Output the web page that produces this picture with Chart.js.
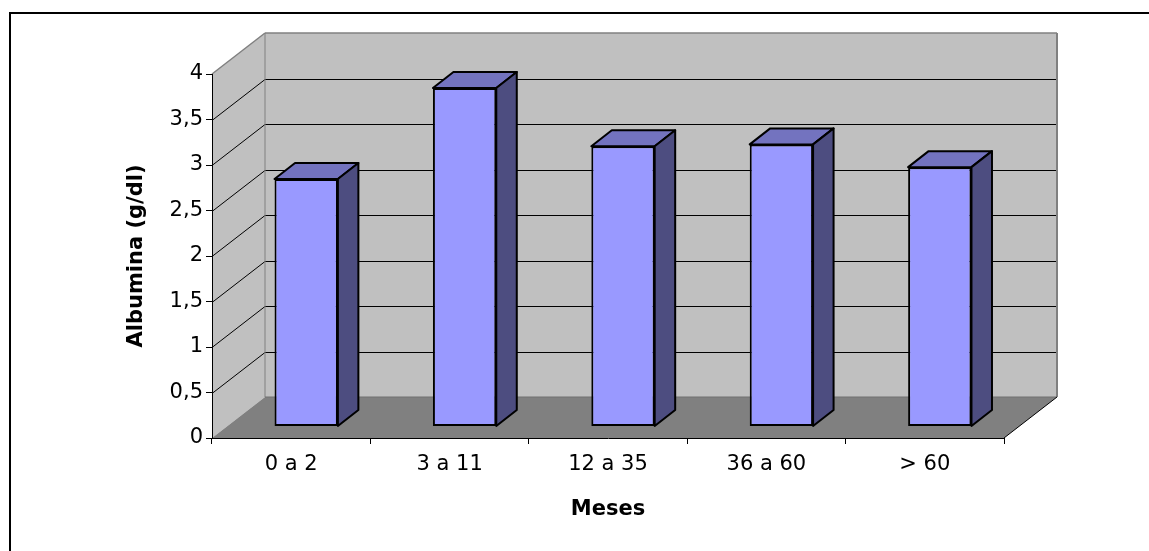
<!DOCTYPE html>
<html>
<head>
<meta charset="utf-8">
<script src="https://cdn.jsdelivr.net/npm/chart.js@4.4.1/dist/chart.umd.min.js"></script>
<style>
  body { margin: 0; background: #fff; }
  canvas { display: block; }
</style>
</head>
<body>
<canvas id="albumina-chart" width="1149" height="551"></canvas>
<script>
// Albumina media por faixa etaria
const categories = ['0 a 2', '3 a 11', '12 a 35', '36 a 60', '> 60'];
const albumina = [2.72, 3.72, 3.08, 3.1, 2.85];
const yTicks = [0, 0.5, 1, 1.5, 2, 2.5, 3, 3.5, 4];

// offsets for the fake 3D box: back wall relative to the front plane,
// where the bars sit inside the box, and how deep each bar is
const WALL_DX = 53, WALL_DY = -41;
const BAR_SHIFT_X = 15, BAR_SHIFT_Y = -11.5;
const BAR_DX = 20.5, BAR_DY = -16;

const FONT = 'DejaVu Sans';

function poly(ctx, pts, fill, stroke, width) {
    ctx.beginPath();
    ctx.moveTo(pts[0][0], pts[0][1]);
    for (let i = 1; i < pts.length; i++) ctx.lineTo(pts[i][0], pts[i][1]);
    ctx.closePath();
    if (fill) { ctx.fillStyle = fill; ctx.fill(); }
    if (stroke) { ctx.strokeStyle = stroke; ctx.lineWidth = width || 1; ctx.lineJoin = 'round'; ctx.stroke(); }
}

function seg(ctx, x1, y1, x2, y2, color, width) {
    ctx.beginPath();
    ctx.moveTo(x1, y1);
    ctx.lineTo(x2, y2);
    ctx.strokeStyle = color;
    ctx.lineWidth = width || 1;
    ctx.stroke();
}

const box3d = {
    id: 'box3d',
    beforeDraw(chart) {
        const { ctx, chartArea: a, scales: { y } } = chart;
        const L = a.left, R = a.right;
        const T = y.getPixelForValue(yTicks[yTicks.length - 1]);
        const B = y.getPixelForValue(0);
        ctx.save();

        // frame round the whole chart
        ctx.strokeStyle = '#000';
        ctx.lineWidth = 2;
        ctx.strokeRect(10, 13, 1160, 560);

        // back wall, side wall, floor
        ctx.fillStyle = '#c0c0c0';
        ctx.fillRect(L + WALL_DX, T + WALL_DY, R - L, B - T);
        poly(ctx, [[L, T], [L + WALL_DX, T + WALL_DY], [L + WALL_DX, B + WALL_DY], [L, B]], '#c0c0c0');
        poly(ctx, [[L, B], [L + WALL_DX, B + WALL_DY], [R + WALL_DX, B + WALL_DY], [R, B]], '#808080');

        // gridlines on the side wall and the back wall
        yTicks.forEach(v => {
            if (v === 0 || v === yTicks[yTicks.length - 1]) return;
            const py = Math.round(y.getPixelForValue(v)) + 0.5;
            seg(ctx, L, py, L + WALL_DX, py + WALL_DY, '#000', 1);
            seg(ctx, L + WALL_DX, py + WALL_DY, R + WALL_DX, py + WALL_DY, '#000', 1);
        });

        // wall edges
        seg(ctx, L, T, L + WALL_DX, T + WALL_DY, '#808080', 1.5);
        seg(ctx, L + WALL_DX, T + WALL_DY, R + WALL_DX, T + WALL_DY, '#808080', 1.5);
        seg(ctx, R + WALL_DX, T + WALL_DY, R + WALL_DX, B + WALL_DY, '#808080', 2);
        seg(ctx, L + WALL_DX, T + WALL_DY, L + WALL_DX, B + WALL_DY, '#808080', 1);
        seg(ctx, L + WALL_DX, B + WALL_DY, R + WALL_DX, B + WALL_DY, '#707070', 1);
        seg(ctx, R, B, R + WALL_DX, B + WALL_DY, '#000', 1);

        ctx.restore();
    },
    beforeDatasetsDraw(chart) {
        const ctx = chart.ctx;
        const meta = chart.getDatasetMeta(0);
        ctx.save();
        meta.data.forEach(bar => {
            const { x, y, width, base } = bar.getProps(['x', 'y', 'width', 'base'], true);
            const l = x - width / 2 + BAR_SHIFT_X;
            const r = x + width / 2 + BAR_SHIFT_X;
            const t = y + BAR_SHIFT_Y;
            const b = base + BAR_SHIFT_Y;
            // top face and right side of the column
            poly(ctx, [[l, t], [l + BAR_DX, t + BAR_DY], [r + BAR_DX, t + BAR_DY], [r, t]], '#7373bf', '#000', 2);
            poly(ctx, [[r, t], [r + BAR_DX, t + BAR_DY], [r + BAR_DX, b + BAR_DY], [r, b]], '#4d4d80', '#000', 2);
        });
        ctx.restore();
        // front faces are the regular bars, pushed into the box
        ctx.save();
        ctx.translate(BAR_SHIFT_X, BAR_SHIFT_Y);
    },
    afterDatasetsDraw(chart) {
        chart.ctx.restore();
    }
};

new Chart(document.getElementById('albumina-chart'), {
    type: 'bar',
    data: {
        labels: categories,
        datasets: [{
            data: albumina,
            backgroundColor: '#9999ff',
            borderColor: '#000',
            borderWidth: 2,
            borderSkipped: false,
            barPercentage: 0.4,
            categoryPercentage: 1,
            clip: false
        }]
    },
    options: {
        responsive: false,
        animation: false,
        layout: { padding: { top: 74, right: 145, left: 0, bottom: 0 } },
        plugins: {
            legend: { display: false },
            tooltip: { enabled: false }
        },
        scales: {
            x: {
                afterFit: s => { s.height = 113; },
                grid: { offset: true, drawOnChartArea: false, tickLength: 6, tickColor: '#000', tickWidth: 1 },
                border: { color: '#000', width: 1 },
                ticks: { padding: 8, color: '#000', maxRotation: 0, font: { family: FONT, size: 21 } },
                title: {
                    display: true,
                    text: 'Meses',
                    color: '#000',
                    padding: { top: 0, bottom: 29 },
                    font: { family: FONT, size: 21, weight: 'bold' }
                }
            },
            y: {
                min: 0,
                max: 4,
                afterBuildTicks: s => { s.ticks = yTicks.map(value => ({ value })); },
                afterFit: s => { s.width = 212; },
                grid: { drawOnChartArea: false, tickLength: 6, tickColor: '#000', tickWidth: 1 },
                border: { color: '#000', width: 1 },
                ticks: {
                    padding: 3,
                    color: '#000',
                    font: { family: FONT, size: 21 },
                    callback: v => String(v).replace('.', ',')
                },
                title: {
                    display: true,
                    text: 'Albumina (g/dl)',
                    color: '#000',
                    padding: { top: 124, bottom: 0 },
                    font: { family: FONT, size: 21, weight: 'bold' }
                }
            }
        }
    },
    plugins: [box3d]
});
</script>
</body>
</html>
